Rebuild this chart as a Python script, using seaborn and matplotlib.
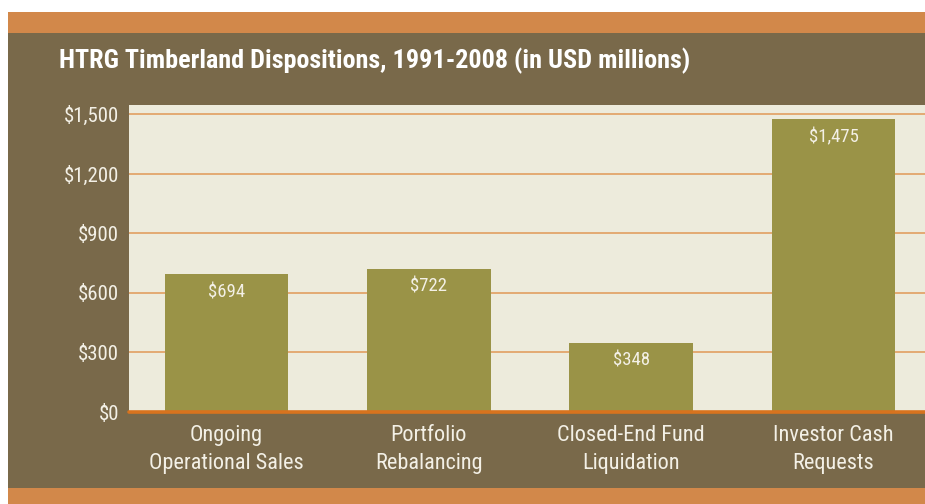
import numpy as np
import matplotlib
matplotlib.use('Agg')
import matplotlib.pyplot as plt
import seaborn as sns
import pandas as pd
from matplotlib import font_manager
from matplotlib.patches import Rectangle

# ---- data ----
categories = ['Ongoing\nOperational Sales', 'Portfolio\nRebalancing',
              'Closed-End Fund\nLiquidation', 'Investor Cash\nRequests']
values = [694, 722, 348, 1475]
value_labels = ['$694', '$722', '$348', '$1,475']
y_ticks = [0, 300, 600, 900, 1200, 1500]
y_tick_labels = ['$0', '$300', '$600', '$900', '$1,200', '$1,500']
title = 'HTRG Timberland Dispositions, 1991-2008 (in USD millions)'

df = pd.DataFrame({'category': categories, 'value': values})

# ---- style ----
sns.set_style('white')
names = {f.name for f in font_manager.fontManager.ttflist}
narrow = next((n for n in ['Liberation Sans Narrow', 'Roboto Condensed',
                           'Open Sans Condensed', 'Noto Sans Condensed']
               if n in names), None)
if narrow:
    plt.rcParams['font.family'] = [narrow, 'DejaVu Sans']
    stretch = 'normal'
else:
    plt.rcParams['font.family'] = ['DejaVu Sans']
    stretch = 'condensed'

bar_color = '#9A9347'
plot_bg = '#EDEBDC'
panel = '#79694A'
band = '#D2884A'
grid_color = '#E2A56A'
zero_color = '#D8731E'
text_color = '#F3F0E6'

W, H = 925, 504
fig = plt.figure(figsize=(W / 100, H / 100), dpi=100)
fig.patch.set_facecolor('white')

# background bands (pixel coords -> figure fraction)
def px_rect(x0, y0, x1, y1, color):
    fig.patches.append(Rectangle((x0 / W, 1 - y1 / H), (x1 - x0) / W, (y1 - y0) / H,
                                 transform=fig.transFigure, facecolor=color,
                                 edgecolor='none', zorder=-10))

px_rect(8, 12, W, 33, band)
px_rect(8, 33, W, 488, panel)
px_rect(8, 488, W, H, band)

ax = fig.add_axes([129 / W, (H - 412) / H, (W - 129) / W, (412 - 105) / H])
ax.set_facecolor(plot_bg)
ax.set_zorder(1)

sns.barplot(data=df, x='category', y='value', color=bar_color, width=0.61,
            saturation=1, ax=ax, zorder=3, edgecolor='none', linewidth=0)

ax.set_xlim(-0.482, 3.452)
ax.set_ylim(0, 1545)
ax.set_yticks(y_ticks)
ax.set_yticklabels(y_tick_labels)
ax.set_xlabel('')
ax.set_ylabel('')

for gy in y_ticks[1:]:
    ax.axhline(gy, color=grid_color, lw=1.3, zorder=1)
ax.axhline(0, color=zero_color, lw=2.6, zorder=4, clip_on=False)

for s in ax.spines.values():
    s.set_visible(False)

ax.tick_params(axis='both', length=0, colors=text_color)
ax.tick_params(axis='y', pad=7, labelsize=15)
ax.tick_params(axis='x', pad=9.5, labelsize=16)
for lbl in ax.get_xticklabels() + ax.get_yticklabels():
    lbl.set_fontstretch(stretch)
for lbl in ax.get_xticklabels():
    lbl.set_linespacing(1.4)

for i, (v, t) in enumerate(zip(values, value_labels)):
    ax.annotate(t, (i, v), xytext=(0, -13), textcoords='offset points',
                ha='center', va='center', color=text_color, fontsize=13.5,
                fontstretch=stretch, zorder=5)

fig.text(59 / W, 1 - 61 / H, title, color='white', fontsize=18.8,
         fontweight='bold', fontstretch=stretch, ha='left', va='center')

fig.savefig('out.png', dpi=100, facecolor=fig.get_facecolor())
